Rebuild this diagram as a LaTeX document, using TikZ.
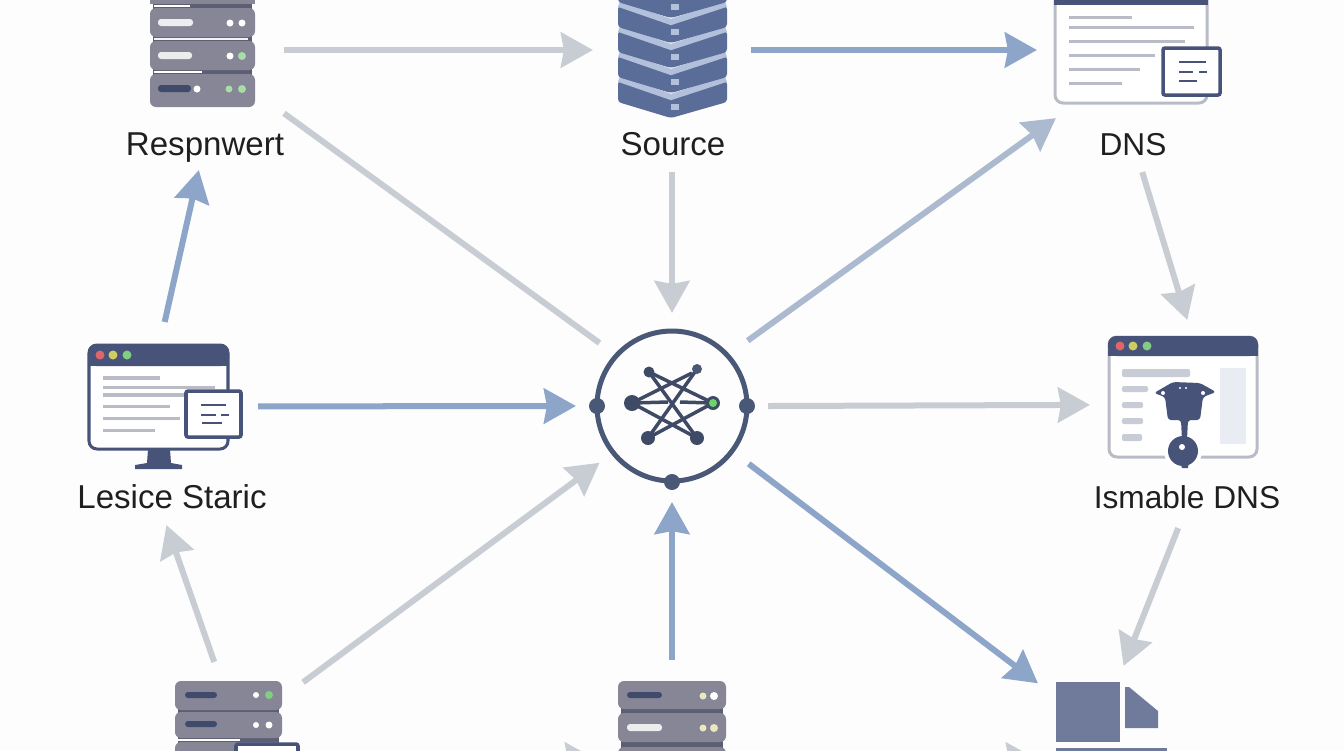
\documentclass[tikz,border=0pt]{standalone}
\usepackage{fontspec}
\setmainfont{Liberation Sans}
\usetikzlibrary{
  arrows.meta,
  positioning
}
\definecolor{LinkGray}{RGB}{200,205,212}
\definecolor{LinkMid}{RGB}{172,186,208}
\definecolor{LinkBlue}{RGB}{140,165,200}
\definecolor{RackGray}{RGB}{134,134,150}
\definecolor{RackSeam}{RGB}{92,94,116}
\definecolor{SlateDark}{RGB}{71,83,120}
\definecolor{SlabBlue}{RGB}{90,109,152}
\definecolor{SlabLight}{RGB}{178,192,220}
\definecolor{SheetGray}{RGB}{112,122,154}
\definecolor{FrameGray}{RGB}{185,188,198}
\definecolor{RowGray}{RGB}{200,204,214}
\definecolor{PaneTint}{RGB}{233,236,243}
\definecolor{LampRed}{RGB}{224,102,102}
\definecolor{LampYellow}{RGB}{205,205,100}
\definecolor{LampGreen}{RGB}{130,205,130}
\definecolor{LampCream}{RGB}{236,232,190}
\definecolor{HubDark}{RGB}{74,88,120}
\definecolor{PageBack}{RGB}{253,253,253}
\tikzset{
  spot/.style={inner sep=0pt,outer sep=0pt},
  tagtext/.style={font=\fontsize{9.4pt}{11pt}\selectfont,text=black!88,inner sep=0pt,anchor=base},
  tagsmall/.style={tagtext,font=\fontsize{9pt}{11pt}\selectfont},
  linkgray/.style={-{Stealth[length=3.2mm,width=3.5mm,inset=0.3mm]},line width=0.6mm,draw=LinkGray,color=LinkGray},
  linkmid/.style={-{Stealth[length=3.2mm,width=3.5mm,inset=0.3mm]},line width=0.6mm,draw=LinkMid,color=LinkMid},
  linkblue/.style={-{Stealth[length=3.2mm,width=3.5mm,inset=0.3mm]},line width=0.6mm,draw=LinkBlue,color=LinkBlue},
  unit/.style={fill=RackGray,rounded corners=0.6mm},
  barlight/.style={fill=white!85!RackGray,rounded corners=0.3mm},
  bardark/.style={fill=SlateDark!90!black,rounded corners=0.3mm},
  textline/.style={draw=FrameGray,line width=0.3mm},
  miniline/.style={draw=SlateDark,line width=0.25mm},
  minibox/.style={draw=SlateDark,line width=0.35mm,fill=white,rounded corners=0.2mm},
  winframe/.style={line width=0.3mm,rounded corners=0.8mm,fill=white},
  spoke/.style={draw=HubDark!85!black,line width=0.35mm}
}
\begin{document}
\begin{tikzpicture}[x=0.01cm,y=-0.01cm]
\path[use as bounding box,clip] (0,0) rectangle (1344,750);
\fill[PageBack] (0,0) rectangle (1344,750);

% anchors of the nine places
\node[spot,minimum width=1.62cm,minimum height=2.40cm] (resp) at (203,50) {};
\node[spot,minimum width=1.58cm,minimum height=2.44cm] (source) at (672,50) {};
\node[spot,minimum width=2.02cm,minimum height=2.44cm] (dns) at (1138,50) {};
\node[spot,minimum width=1.76cm,minimum height=2.03cm] (lesice) at (170,423.5) {};
\node[spot,circle,minimum size=1.92cm] (hub) at (672,406) {};
\node[spot,minimum width=1.80cm,minimum height=2.08cm] (ismable) at (1180,424) {};
\node[spot,minimum width=1.50cm,minimum height=1.96cm] (lowleft) at (228,760) {};
\node[spot,minimum width=1.50cm,minimum height=2.00cm] (lowmid) at (672,760) {};
\node[spot,minimum width=1.48cm,minimum height=1.88cm] (lowright) at (1112,760) {};

% top left rack
\fill[RackSeam] (153,-10) rectangle (252,100);
\fill[RackGray] (150,-10) rectangle (255,4);
\fill[unit] (150,8) rectangle (255,37);
\fill[unit] (150,41) rectangle (255,70);
\fill[unit] (150,74) rectangle (255,107);
\fill[white] (154,5) rectangle (190,7);
\fill[white!90!RackGray] (154,38) rectangle (248,40);
\fill[white] (154,71) rectangle (202,73);
\fill[barlight] (158,19) rectangle (193,26);
\fill[barlight] (158,52) rectangle (192,59);
\fill[bardark] (158,85) rectangle (191,92);
\fill[white] (230,23) circle (3.5) (242,23) circle (3.5) (230,56) circle (3.5) (197,89) circle (3.5);
\fill[LampGreen!70!white] (242,56) circle (4) (229,89) circle (3.5) (242,89) circle (4);

% source stack
\foreach \s in {0,25,50,75,100}{
  \begin{scope}[yshift=\s*0.01cm]
    \fill[SlabBlue,rounded corners=0.3mm] (618,81) -- (671,99) -- (727,81) -- (727,102) -- (671,118) -- (618,102) -- cycle;
    \draw[SlabLight,line width=0.6mm] (619,79) -- (671,97) -- (726,79);
    \fill[SlabLight] (671,104) rectangle (679,110);
  \end{scope}
}

% dns window
\draw[winframe,draw=FrameGray] (1055,-10) rectangle (1207,103);
\fill[SlateDark] (1054,-10) rectangle (1208,5);
\foreach \y/\e in {17/1132,27/1194,41/1185,55/1155,69/1140,83/1122}{
  \draw[textline] (1069,\y) -- (\e,\y);
}
\draw[minibox] (1163,48) rectangle (1220,95);
\draw[miniline] (1179,62) -- (1206,62) (1179,72) -- (1193,72) (1199,72) -- (1207,72) (1179,81) -- (1197,81);

% monitor
\fill[SlateDark] (148,449) -- (170,449) -- (171,463) -- (182,465) -- (182,469) -- (135,469) -- (135,465) -- (147,463) -- cycle;
\draw[winframe,draw=SlateDark] (89,345) rectangle (228,449);
\fill[SlateDark,rounded corners=0.8mm] (88,344) rectangle (229,366);
\fill[SlateDark] (88,358) rectangle (229,366);
\fill[LampRed] (100,355) circle (4.5);
\fill[LampYellow] (113,355) circle (4.5);
\fill[LampGreen] (127,355) circle (4.5);
\draw[textline,line width=0.4mm] (103,378) -- (160,378) (103,395) -- (185,395);
\foreach \y/\e in {387/215,406/170,418/180,430/155}{
  \draw[textline] (103,\y) -- (\e,\y);
}
\draw[minibox] (186,391) rectangle (241,437);
\draw[miniline] (201,405) -- (226,405) (201,415) -- (216,415) (221,415) -- (229,415) (202,423) -- (222,423);

% hub
\draw[HubDark,line width=0.5mm] (hub.center) circle (75);
\fill[HubDark] (597,406) circle (8) (747,406) circle (8) (672,482) circle (8);
\draw[spoke] (649,372) -- (697,438) (697,369) -- (648,438);
\draw[spoke] (632,403) -- (692,373) (632,403) -- (697,438);
\draw[spoke] (713,403) -- (649,372) (713,403) -- (648,438);
\draw[spoke] (632,403) -- (668,402) (680,402) -- (713,403);
\fill[HubDark!85!black] (632,403) circle (8) (648,438) circle (7) (697,438) circle (7) (649,372) circle (5.5);
\fill[HubDark] (697,369) circle (5);
\fill[HubDark!85!black] (713,403) circle (7);
\fill[LampGreen!80!green] (713,403) circle (4);

% ismable window
\draw[winframe,draw=FrameGray] (1109,337) rectangle (1257,457);
\fill[SlateDark,rounded corners=0.8mm] (1108,336) rectangle (1258,356);
\fill[SlateDark] (1108,350) rectangle (1258,356);
\fill[LampRed] (1120,346) circle (4.5);
\fill[LampYellow] (1133,346) circle (4.5);
\fill[LampGreen] (1147,346) circle (4.5);
\fill[PaneTint] (1220,368) rectangle (1246,444);
\foreach \a/\b/\c/\d in {1122/369/1190/377,1122/386/1148/392,1122/402/1143/408,1122/418/1143/424,1122/434/1142/441}{
  \fill[RowGray,rounded corners=0.2mm] (\a,\b) rectangle (\c,\d);
}
\fill[white] (1183,451) circle (19);
\fill[SlateDark,rounded corners=0.3mm] (1154,393) -- (1173,382) -- (1200,383) -- (1216,392) -- (1203,397) -- (1200,420) -- (1188,420) -- (1187,440) -- (1182,440) -- (1181,420) -- (1168,420) -- (1165,397) -- cycle;
\fill[SlateDark] (1183,451) circle (15);
\fill[SlateDark] (1180,460) -- (1189,460) -- (1188,468) -- (1182,468) -- cycle;
\fill[white] (1163,393) circle (2) (1203,393) circle (2) (1182,447) circle (3) (1180,388) circle (1.2) (1186,388) circle (1.2);

% lower racks and sheet
\fill[RackSeam] (178,690) rectangle (279,760);
\fill[unit] (175,681) rectangle (282,710);
\fill[unit] (175,712) rectangle (282,738);
\fill[white] (178,739) rectangle (240,741);
\fill[unit] (175,742) rectangle (282,760);
\fill[bardark] (185,692) rectangle (217,698);
\fill[bardark] (185,721) rectangle (217,727);
\fill[white] (256,695) circle (3) (256,725) circle (3) (269,725) circle (3.5);
\fill[LampGreen] (269,695) circle (4);
\draw[minibox] (236,744) rectangle (298,770);
\fill[RackSeam] (621,690) rectangle (723,760);
\fill[unit] (618,681) rectangle (726,709);
\fill[unit] (618,713) rectangle (726,742);
\fill[unit] (618,747) rectangle (726,770);
\fill[bardark] (627,692) rectangle (662,698);
\fill[barlight] (627,724) rectangle (662,731);
\fill[LampCream] (703,696) circle (3.5) (703,728) circle (3.5) (714,728) circle (4);
\fill[white] (714,696) circle (4);
\fill[SheetGray] (1056,682) rectangle (1120,742);
\fill[SheetGray] (1125,687) -- (1129,687) -- (1158,711) -- (1158,728) -- (1125,728) -- cycle;
\fill[SheetGray] (1056,748) rectangle (1167,770);

% labels
\node[tagtext] (resplabel) at (205,155) {Respnwert};
\node[tagtext] (sourcelabel) at (673,155) {Source};
\node[tagsmall] (dnslabel) at (1133,155) {DNS};
\node[tagtext] (lesicelabel) at (172,508) {Lesice Staric};
\node[tagsmall] (ismablelabel) at (1187,508) {Ismable DNS};

% connectors
\draw[linkgray] (resp.east) -- (source.west);
\draw[linkblue] (source.east) -- (dns.west);
\draw[linkgray,-] (resp.-38.7) -- (hub.139.5);
\draw[linkgray,shorten >=-0.03cm] (source.south) -- (hub.north);
\draw[linkmid,shorten <=0.04cm,shorten >=-0.234cm] (hub.41) -- (dns.-141);
\draw[linkgray] (dns.-88.1) -- (ismable.86.7);
\draw[linkblue] (lesice.93.9) -- (resp.268.6);
\draw[linkblue] (lesice.11.25) -- (hub.west);
\draw[linkgray] (hub.east) -- (ismable.168.69);
\draw[linkgray] (lowleft.98.7) -- (lesice.-92.8);
\draw[linkgray,shorten >=-0.04cm] (lowleft.46.1) -- (hub.218.4);
\draw[linkblue] (lowmid.north) -- (hub.south);
\draw[linkblue] (hub.-37.1) -- (lowright.134.2);
\draw[linkgray] (ismable.-91.7) -- (lowright.83.3);
\draw[linkgray] (lowleft.east) -- (lowmid.west);
\draw[linkgray] (lowmid.east) -- (lowright.west);
\end{tikzpicture}
\end{document}
